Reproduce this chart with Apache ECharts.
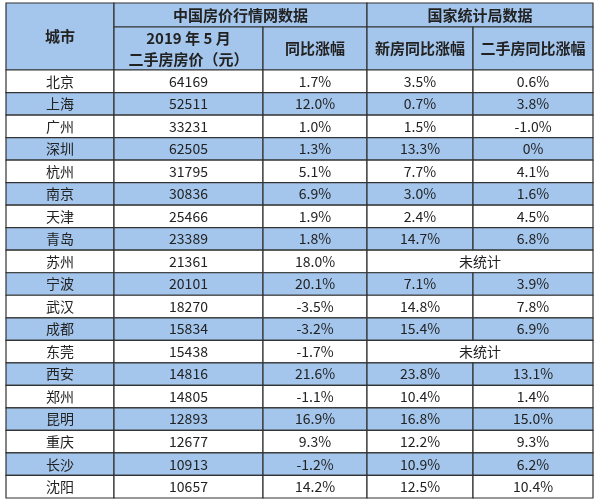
<!DOCTYPE html>
<html><head><meta charset="utf-8">
<script src="https://cdn.jsdelivr.net/npm/echarts@6/dist/echarts.min.js"></script>
<style>html,body{margin:0;background:#fff}#main{width:600px;height:502px}</style>
</head><body><div id="main"></div>
<script>
var cities = ['北京','上海','广州','深圳','杭州','南京','天津','青岛','苏州','宁波','武汉','成都','东莞','西安','郑州','昆明','重庆','长沙','沈阳'];
var prices = [64169,52511,33231,62505,31795,30836,25466,23389,21361,20101,18270,15834,15438,14816,14805,12893,12677,10913,10657];
var priceYoy = ['1.7%','12.0%','1.0%','1.3%','5.1%','6.9%','1.9%','1.8%','18.0%','20.1%','-3.5%','-3.2%','-1.7%','21.6%','-1.1%','16.9%','9.3%','-1.2%','14.2%'];
var newYoy = ['3.5%','0.7%','1.5%','13.3%','7.7%','3.0%','2.4%','14.7%',null,'7.1%','14.8%','15.4%',null,'23.8%','10.4%','16.8%','12.2%','10.9%','12.5%'];
var usedYoy = ['0.6%','3.8%','-1.0%','0%','4.1%','1.6%','4.5%','6.8%',null,'3.9%','7.8%','6.9%',null,'13.1%','1.4%','15.0%','9.3%','6.2%','10.4%'];
var noStat = '未统计';

// layout
var colX = [6, 114, 263, 367, 473, 593];
var top0 = 3, headMid = 27, bodyTop = 70, bodyBottom = 498;
var rowH = (bodyBottom - bodyTop) / cities.length;
var blue = '#a4c6ec', line = '#333';

// cells: [x0, x1, y0, y1, text, fill, isHeader]
var cells = [];
cells.push([colX[0], colX[1], top0, bodyTop, '城市', blue, 1]);
cells.push([colX[1], colX[3], top0, headMid, '中国房价行情网数据', blue, 1]);
cells.push([colX[3], colX[5], top0, headMid, '国家统计局数据', blue, 1]);
cells.push([colX[1], colX[2], headMid, bodyTop, '2019 年 5 月\n二手房房价（元）', blue, 1]);
cells.push([colX[2], colX[3], headMid, bodyTop, '同比涨幅', blue, 1]);
cells.push([colX[3], colX[4], headMid, bodyTop, '新房同比涨幅', blue, 1]);
cells.push([colX[4], colX[5], headMid, bodyTop, '二手房同比涨幅', blue, 1]);
cities.forEach(function (c, i) {
  var y0 = bodyTop + i * rowH, y1 = y0 + rowH;
  var fill = i % 2 ? blue : '#fff';
  cells.push([colX[0], colX[1], y0, y1, c, fill, 0]);
  cells.push([colX[1], colX[2], y0, y1, String(prices[i]), fill, 0]);
  cells.push([colX[2], colX[3], y0, y1, priceYoy[i], fill, 0]);
  if (newYoy[i] === null) {
    cells.push([colX[3], colX[5], y0, y1, noStat, fill, 0]);
  } else {
    cells.push([colX[3], colX[4], y0, y1, newYoy[i], fill, 0]);
    cells.push([colX[4], colX[5], y0, y1, usedYoy[i], fill, 0]);
  }
});

var myChart = echarts.init(document.getElementById('main'));
var option = {
  animation: false,
  grid: {left: 0, right: 0, top: 0, bottom: 0},
  xAxis: {type: 'value', min: 0, max: 600, show: false},
  yAxis: {type: 'value', min: 0, max: 502, inverse: true, show: false},
  series: [{
    type: 'custom',
    data: cells,
    renderItem: function (params, api) {
      var d = cells[params.dataIndex];
      var p0 = api.coord([d[0], d[2]]), p1 = api.coord([d[1], d[3]]);
      return {
        type: 'rect',
        shape: {x: p0[0], y: p0[1], width: p1[0] - p0[0], height: p1[1] - p0[1]},
        style: {fill: d[5], stroke: line, lineWidth: 1.2},
        textContent: {
          style: {text: d[4], fontFamily: 'Noto Sans CJK SC',
            fontSize: d[6] ? 15 : 14, fontWeight: d[6] ? 'bold' : 'normal',
            fill: '#222', lineHeight: 21, align: 'center'}
        },
        textConfig: {position: 'inside'}
      };
    }
  }]
};
myChart.setOption(option);
</script></body></html>
